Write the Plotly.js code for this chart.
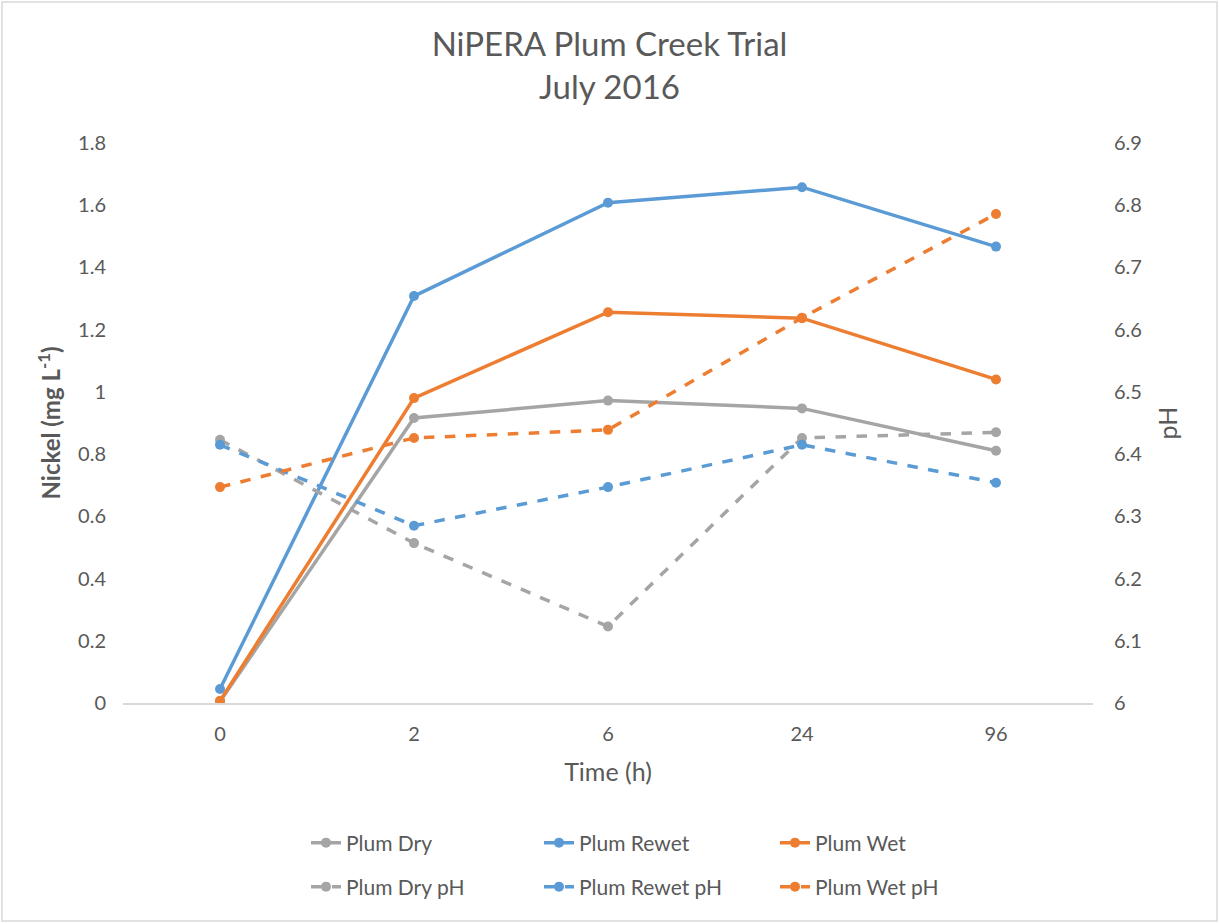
<!DOCTYPE html>
<html>
<head>
<meta charset="utf-8">
<script src="https://cdn.plot.ly/plotly-3.0.1.min.js"></script>
<style>html,body{margin:0;padding:0;background:#fff;}#chart{width:1219px;height:923px;}</style>
</head>
<body>
<div id="chart"></div>
<script>
const times = ['0', '2', '6', '24', '96'];
const plumDry = [0.005, 0.916, 0.972, 0.947, 0.811];
const plumRewet = [0.045, 1.308, 1.608, 1.658, 1.467];
const plumWet = [0.007, 0.980, 1.256, 1.237, 1.040];
const plumDryPH = [6.423, 6.257, 6.123, 6.426, 6.435];
const plumRewetPH = [6.415, 6.285, 6.347, 6.415, 6.354];
const plumWetPH = [6.347, 6.426, 6.439, 6.619, 6.786];

const GRAY = '#A5A5A5', BLUE = '#5B9BD5', ORANGE = '#ED7D31';
const TXT = '#595959';
const FONT = 'Lato, "Open Sans", sans-serif';

function tr(name, y, color, dashed, legend) {
  return {
    x: times, y: y, name: name, type: 'scatter', mode: 'lines+markers',
    line: {color: color, width: 3.5, dash: dashed ? 'dash' : 'solid'},
    marker: {color: color, size: 10},
    yaxis: dashed ? 'y2' : 'y',
    legend: legend, showlegend: true
  };
}

const data = [
  tr('Plum Dry', plumDry, GRAY, false, 'legend'),
  tr('Plum Rewet', plumRewet, BLUE, false, 'legend2'),
  tr('Plum Wet', plumWet, ORANGE, false, 'legend3'),
  tr('Plum Dry pH', plumDryPH, GRAY, true, 'legend4'),
  tr('Plum Rewet pH', plumRewetPH, BLUE, true, 'legend5'),
  tr('Plum Wet pH', plumWetPH, ORANGE, true, 'legend6')
];

// plot area: left 123px, width 970px, top 143px, height 560px
function leg(textLeftPx, rowCenterPx) {
  return {
    orientation: 'h', xanchor: 'left', yanchor: 'middle',
    x: (textLeftPx - 40 - 123) / 970, y: (703 - rowCenterPx) / 560,
    font: {family: FONT, size: 21, color: TXT}, bgcolor: 'rgba(0,0,0,0)'
  };
}

const layout = {
  width: 1219, height: 923,
  paper_bgcolor: '#fff', plot_bgcolor: '#fff',
  margin: {l: 123, r: 126, t: 143, b: 220},
  font: {family: FONT, color: TXT},
  showlegend: true,
  title: {
    text: 'NiPERA Plum Creek Trial<br>July 2016',
    font: {family: FONT, size: 33, color: TXT},
    x: 0.5, xanchor: 'center', y: 0.939, yanchor: 'top'
  },
  xaxis: {
    type: 'category', categoryorder: 'array', categoryarray: times,
    range: [-0.5, 4.5],
    showgrid: false, zeroline: false,
    showline: true, linecolor: '#D9D9D9', linewidth: 1.5,
    ticks: '', tickfont: {family: FONT, size: 20, color: TXT},
    ticklabelstandoff: 12,
    title: {text: 'Time (h)', font: {family: FONT, size: 25, color: TXT}, standoff: 20}
  },
  yaxis: {
    range: [0, 1.8], dtick: 0.2,
    showgrid: false, zeroline: false, showline: false, ticks: '',
    tickfont: {family: FONT, size: 20, color: TXT},
    ticklabelstandoff: 16,
    title: {text: '<b>Nickel (mg L<sup>-1</sup>)</b>', font: {family: FONT, size: 24, color: TXT}, standoff: 10}
  },
  yaxis2: {
    overlaying: 'y', side: 'right',
    range: [6, 6.9], dtick: 0.1,
    showgrid: false, zeroline: false, showline: false, ticks: '',
    tickfont: {family: FONT, size: 20, color: TXT},
    ticklabelstandoff: 20,
    title: {text: 'pH', font: {family: FONT, size: 25, color: TXT}, standoff: 18}
  },
  legend: leg(346, 843),
  legend2: leg(579, 843),
  legend3: leg(815, 843),
  legend4: leg(346, 887),
  legend5: leg(579, 887),
  legend6: leg(815, 887),
  shapes: [{
    type: 'rect', xref: 'paper', yref: 'paper',
    x0: -121/970, x1: 1 + 124/970, y0: -218/560, y1: 1 + 141/560,
    line: {color: '#D9D9D9', width: 1.5}, fillcolor: 'rgba(0,0,0,0)', layer: 'below'
  }]
};

Plotly.newPlot('chart', data, layout, {displayModeBar: false, staticPlot: true});
</script>
</body>
</html>
